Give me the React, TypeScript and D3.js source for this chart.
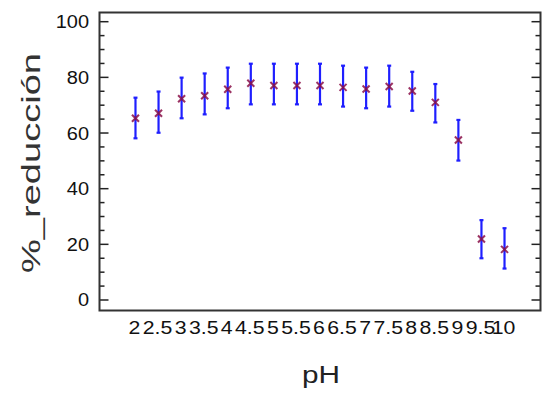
import React from "react";
import * as d3 from "d3";

// pH levels (x categories)
const phLevels = ["2", "2.5", "3", "3.5", "4", "4.5", "5", "5.5", "6", "6.5", "7", "7.5", "8", "8.5", "9", "9.5", "10"];
// mean % reduction per pH
const meanValues = [65.3, 67.1, 72.3, 73.4, 75.7, 77.9, 77.1, 77.1, 77.1, 76.4, 75.8, 76.7, 75.1, 71.0, 57.5, 21.9, 18.2];
// interval limits
const upperValues = [72.7, 74.9, 79.9, 81.4, 83.5, 84.9, 84.9, 84.9, 84.9, 84.2, 83.5, 84.2, 82.0, 77.6, 64.7, 28.7, 25.8];
const lowerValues = [58.1, 60.1, 65.3, 66.7, 68.9, 70.3, 70.3, 70.3, 70.3, 69.5, 68.9, 69.5, 68.0, 63.8, 50.1, 15.0, 11.3];
// y axis ticks
const yTicks = [0, 20, 40, 60, 80, 100];
const yMinorTicks = d3.range(0, 101, 5);

const W = 542, H = 395;
const frame = { left: 99.5, right: 540.5, top: 12.5, bottom: 310.5 };
const font = "Arial, 'Liberation Sans', sans-serif";

export default function App() {
  const x = d3.scalePoint<string>()
    .domain(phLevels)
    .range([frame.left, frame.right])
    .padding(1.56);

  const y = d3.scaleLinear().domain([0, 100]).range([300, 21.7]);

  const cap = 2;
  const mk = 3.5;

  return (
    <svg width={W} height={H} style={{ position: "absolute", left: 0, top: 0, background: "#fff" }}>
      {/* minor + major ticks, both sides, inward */}
      {yMinorTicks.map(t => {
        const len = t % 20 === 0 ? 9 : 5;
        return (
          <g key={t} stroke="#222" strokeWidth={1.5}>
            <line x1={frame.left} x2={frame.left + len} y1={y(t)} y2={y(t)} />
            <line x1={frame.right} x2={frame.right - len} y1={y(t)} y2={y(t)} />
          </g>
        );
      })}
      <rect x={frame.left} y={frame.top} width={frame.right - frame.left} height={frame.bottom - frame.top}
        fill="none" stroke="#333" strokeWidth={2} />

      {/* y tick labels */}
      {yTicks.map(t => (
        <g key={t} transform={`translate(89,${y(t)}) scale(1.08,1)`}>
          <text textAnchor="end" dy="0.35em" fontFamily={font} fontSize={18.5} fill="#111">{t}</text>
        </g>
      ))}

      {/* x tick labels */}
      {phLevels.map(p => (
        <g key={p} transform={`translate(${(x(p) as number) - 1},334) scale(1.15,1)`}>
          <text textAnchor="middle" fontFamily={font} fontSize={18.5} fill="#111">{p}</text>
        </g>
      ))}

      {/* error bars */}
      {phLevels.map((p, i) => {
        const cx = x(p) as number;
        return (
          <g key={p} stroke="#1f1fff" strokeWidth={2.2} fill="none">
            <line x1={cx} x2={cx} y1={y(upperValues[i])} y2={y(lowerValues[i])} />
            <line x1={cx - cap} x2={cx + cap} y1={y(upperValues[i])} y2={y(upperValues[i])} />
            <line x1={cx - cap} x2={cx + cap} y1={y(lowerValues[i])} y2={y(lowerValues[i])} />
          </g>
        );
      })}

      {/* mean markers */}
      {phLevels.map((p, i) => {
        const cx = x(p) as number;
        const cy = y(meanValues[i]);
        return (
          <g key={p} stroke="#8a1048" strokeWidth={2} opacity={0.85}>
            <line x1={cx - mk} x2={cx + mk} y1={cy - mk} y2={cy + mk} />
            <line x1={cx - mk} x2={cx + mk} y1={cy + mk} y2={cy - mk} />
          </g>
        );
      })}

      {/* axis titles */}
      <text x={321} y={382.5} textAnchor="middle" fontFamily={font} fontSize={24.5} fill="#222"
        textLength={38} lengthAdjust="spacingAndGlyphs">pH</text>
      <text transform="translate(39.5,163) rotate(-90)" textAnchor="middle" fontFamily={font} fontSize={26}
        fill="#333" textLength={220} lengthAdjust="spacingAndGlyphs">%_reducción</text>
    </svg>
  );
}
